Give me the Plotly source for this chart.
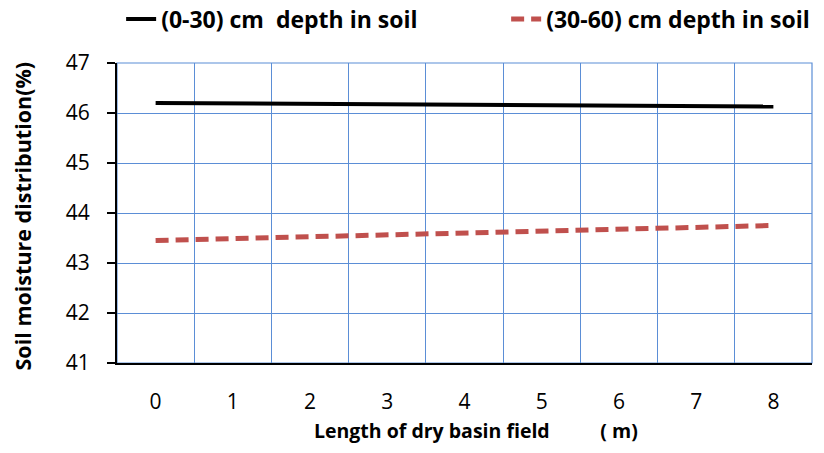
import plotly.graph_objects as go

x_labels = ["0", "1", "2", "3", "4", "5", "6", "7", "8"]
depth_0_30 = [46.20, 46.19, 46.18, 46.17, 46.16, 46.16, 46.15, 46.14, 46.13]
depth_30_60 = [43.45, 43.49, 43.52, 43.56, 43.60, 43.63, 43.67, 43.71, 43.75]

FONT = "Open Sans"
GRID = "#5B8ED6"
SP = "&nbsp;" * 10
PAD = "&nbsp;" * 14

fig = go.Figure()
fig.add_trace(go.Scatter(x=x_labels, y=depth_0_30, mode="lines",
                         name="(0-30) cm&nbsp; depth in soil" + PAD,
                         line=dict(color="black", width=4)))
fig.add_trace(go.Scatter(x=x_labels, y=depth_30_60, mode="lines",
                         name="(30-60) cm depth in soil",
                         line=dict(color="#C0504D", width=5, dash="13px,7px")))

fig.add_shape(type="rect", xref="paper", yref="paper", x0=0, x1=1, y0=0, y1=1,
              line=dict(color=GRID, width=1.2), layer="below")

fig.add_annotation(text="<b>Soil moisture distribution(%)</b>", xref="paper", yref="paper",
                   x=-0.136, y=0.49, textangle=-90, showarrow=False, xanchor="center",
                   yanchor="middle", font=dict(family=FONT, size=21.5, color="black"))
fig.add_annotation(text="<b>Length of dry basin field" + SP + "( m)</b>",
                   xref="paper", yref="paper", x=0.517, y=-0.226, showarrow=False,
                   xanchor="center", yanchor="middle",
                   font=dict(family=FONT, size=19.5, color="black"))

fig.update_layout(
    width=824, height=453,
    margin=dict(l=117, r=12, t=63, b=90, autoexpand=False),
    paper_bgcolor="white", plot_bgcolor="white",
    font=dict(family=FONT, size=20, color="black"),
    showlegend=True,
    legend=dict(orientation="h", x=0.147, xanchor="left", xref="container",
                y=0.958, yanchor="middle", yref="container",
                font=dict(family=FONT, size=23, color="black", weight="bold"),
                bgcolor="rgba(0,0,0,0)"),
    xaxis=dict(type="category", tickson="boundaries", showgrid=True, gridcolor=GRID, gridwidth=1,
               showline=True, linecolor="black", linewidth=1.5, ticks="",
               ticklabelstandoff=19, automargin=False,
               tickfont=dict(family=FONT, size=21, color="black"),
               range=[-0.5, 8.5], zeroline=False),
    yaxis=dict(range=[41, 47], dtick=1, showgrid=True, gridcolor=GRID, gridwidth=1,
               showline=True, linecolor="black", linewidth=2, ticks="outside", ticklen=8,
               tickcolor="black", tickwidth=1.5, automargin=False, ticklabelstandoff=13,
               tickfont=dict(family=FONT, size=21, color="black"),
               zeroline=False),
)

fig.write_html("out.html", config={"displayModeBar": False},
               post_script="document.body.style.margin='0';document.body.style.overflow='hidden';")
